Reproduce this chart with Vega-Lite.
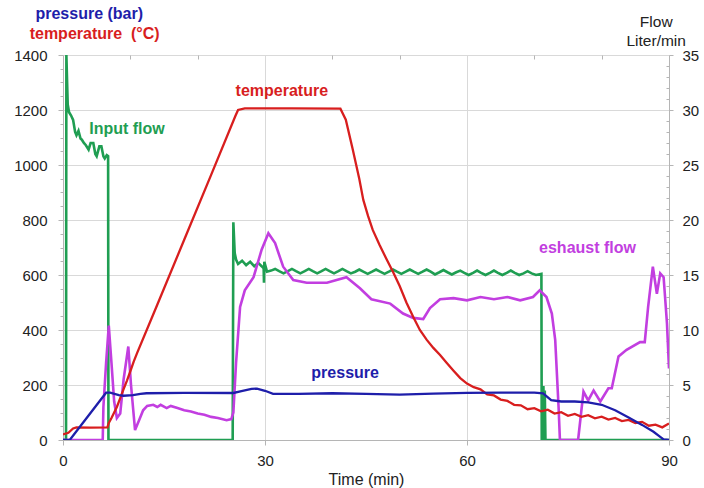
{
  "$schema": "https://vega.github.io/schema/vega-lite/v6.json",
  "width": 606,
  "height": 385,
  "autosize": {"type": "none"},
  "padding": {"left": 63, "top": 55, "right": 35, "bottom": 48},
  "background": "white",
  "config": {
    "view": {"stroke": null},
    "font": "Liberation Sans",
    "axis": {"labelFont": "Liberation Sans", "titleFont": "Liberation Sans", "labelColor": "#222", "titleColor": "#222", "domainColor": "#b5b5b5", "tickColor": "#b5b5b5", "gridColor": "#d9d9d9", "gridWidth": 1}
  },
  "datasets": {
    "lft": [
      {"s": "temperature", "t": 0, "v": 20}, {"s": "temperature", "t": 0.8, "v": 26}, {"s": "temperature", "t": 1.5, "v": 42}, {"s": "temperature", "t": 2, "v": 46}, {"s": "temperature", "t": 4, "v": 45}, {"s": "temperature", "t": 6.6, "v": 46}, {"s": "temperature", "t": 6.8, "v": 62}, {"s": "temperature", "t": 7.2, "v": 80}, {"s": "temperature", "t": 7.6, "v": 100}, {"s": "temperature", "t": 8, "v": 120}, {"s": "temperature", "t": 8.5, "v": 152}, {"s": "temperature", "t": 9, "v": 185}, {"s": "temperature", "t": 9.5, "v": 216}, {"s": "temperature", "t": 10, "v": 250}, {"s": "temperature", "t": 10.5, "v": 285}, {"s": "temperature", "t": 11, "v": 316}, {"s": "temperature", "t": 14, "v": 492}, {"s": "temperature", "t": 18, "v": 728}, {"s": "temperature", "t": 22, "v": 964}, {"s": "temperature", "t": 25.6, "v": 1178}, {"s": "temperature", "t": 26, "v": 1200}, {"s": "temperature", "t": 27, "v": 1206}, {"s": "temperature", "t": 34, "v": 1206}, {"s": "temperature", "t": 41.2, "v": 1205}, {"s": "temperature", "t": 42, "v": 1165}, {"s": "temperature", "t": 43, "v": 1060}, {"s": "temperature", "t": 44, "v": 950}, {"s": "temperature", "t": 44.6, "v": 873}, {"s": "temperature", "t": 45.3, "v": 815}, {"s": "temperature", "t": 46, "v": 764}, {"s": "temperature", "t": 47, "v": 710}, {"s": "temperature", "t": 48, "v": 660}, {"s": "temperature", "t": 49, "v": 612}, {"s": "temperature", "t": 50, "v": 560}, {"s": "temperature", "t": 51, "v": 500}, {"s": "temperature", "t": 52, "v": 448}, {"s": "temperature", "t": 53, "v": 400}, {"s": "temperature", "t": 54, "v": 365}, {"s": "temperature", "t": 55, "v": 335}, {"s": "temperature", "t": 56, "v": 309}, {"s": "temperature", "t": 57, "v": 280}, {"s": "temperature", "t": 58, "v": 252}, {"s": "temperature", "t": 59, "v": 225}, {"s": "temperature", "t": 60, "v": 205}, {"s": "temperature", "t": 61, "v": 192}, {"s": "temperature", "t": 62, "v": 184}, {"s": "temperature", "t": 63, "v": 166}, {"s": "temperature", "t": 64, "v": 162}, {"s": "temperature", "t": 65, "v": 147}, {"s": "temperature", "t": 66, "v": 142}, {"s": "temperature", "t": 67, "v": 128}, {"s": "temperature", "t": 68, "v": 126}, {"s": "temperature", "t": 69, "v": 112}, {"s": "temperature", "t": 70, "v": 116}, {"s": "temperature", "t": 71, "v": 104}, {"s": "temperature", "t": 72, "v": 110}, {"s": "temperature", "t": 73, "v": 96}, {"s": "temperature", "t": 74, "v": 101}, {"s": "temperature", "t": 75, "v": 88}, {"s": "temperature", "t": 76, "v": 95}, {"s": "temperature", "t": 77, "v": 84}, {"s": "temperature", "t": 78, "v": 90}, {"s": "temperature", "t": 79, "v": 79}, {"s": "temperature", "t": 80, "v": 85}, {"s": "temperature", "t": 81, "v": 74}, {"s": "temperature", "t": 82, "v": 80}, {"s": "temperature", "t": 83, "v": 69}, {"s": "temperature", "t": 84, "v": 73}, {"s": "temperature", "t": 85, "v": 62}, {"s": "temperature", "t": 86, "v": 66}, {"s": "temperature", "t": 87, "v": 52}, {"s": "temperature", "t": 88, "v": 56}, {"s": "temperature", "t": 89, "v": 46}, {"s": "temperature", "t": 90, "v": 60},
      {"s": "pressure", "t": 0, "v": 0}, {"s": "pressure", "t": 1.0, "v": 0}, {"s": "pressure", "t": 6.4, "v": 172}, {"s": "pressure", "t": 7, "v": 172}, {"s": "pressure", "t": 8.3, "v": 163}, {"s": "pressure", "t": 9, "v": 161}, {"s": "pressure", "t": 10.4, "v": 163}, {"s": "pressure", "t": 11.5, "v": 168}, {"s": "pressure", "t": 12.4, "v": 170}, {"s": "pressure", "t": 18, "v": 171}, {"s": "pressure", "t": 25.3, "v": 171}, {"s": "pressure", "t": 26.5, "v": 178}, {"s": "pressure", "t": 28, "v": 186}, {"s": "pressure", "t": 28.8, "v": 187}, {"s": "pressure", "t": 30, "v": 179}, {"s": "pressure", "t": 31.2, "v": 168}, {"s": "pressure", "t": 35, "v": 168}, {"s": "pressure", "t": 40, "v": 170}, {"s": "pressure", "t": 45, "v": 168}, {"s": "pressure", "t": 50, "v": 165}, {"s": "pressure", "t": 55, "v": 169}, {"s": "pressure", "t": 60, "v": 171}, {"s": "pressure", "t": 65, "v": 172}, {"s": "pressure", "t": 70, "v": 172}, {"s": "pressure", "t": 71.3, "v": 170}, {"s": "pressure", "t": 72.5, "v": 145}, {"s": "pressure", "t": 74, "v": 140}, {"s": "pressure", "t": 76, "v": 140}, {"s": "pressure", "t": 78, "v": 137}, {"s": "pressure", "t": 80, "v": 128}, {"s": "pressure", "t": 82, "v": 108}, {"s": "pressure", "t": 84, "v": 82}, {"s": "pressure", "t": 86, "v": 55}, {"s": "pressure", "t": 87.7, "v": 30}, {"s": "pressure", "t": 88.5, "v": 15}, {"s": "pressure", "t": 89.2, "v": 2}, {"s": "pressure", "t": 90, "v": 0}
    ],
    "flw": [
      {"s": "input", "t": 0, "f": 0}, {"s": "input", "t": 0.45, "f": 0}, {"s": "input", "t": 0.5, "f": 35}, {"s": "input", "t": 0.7, "f": 30.5}, {"s": "input", "t": 0.9, "f": 29.8}, {"s": "input", "t": 1.2, "f": 29.5}, {"s": "input", "t": 1.5, "f": 29.1}, {"s": "input", "t": 1.8, "f": 28.0}, {"s": "input", "t": 2.0, "f": 27.7}, {"s": "input", "t": 2.3, "f": 28.1}, {"s": "input", "t": 2.6, "f": 27.4}, {"s": "input", "t": 2.8, "f": 27.3}, {"s": "input", "t": 3.1, "f": 27.0}, {"s": "input", "t": 3.4, "f": 26.8}, {"s": "input", "t": 3.8, "f": 26.4}, {"s": "input", "t": 4.1, "f": 27.0}, {"s": "input", "t": 4.5, "f": 27.0}, {"s": "input", "t": 4.8, "f": 26.0}, {"s": "input", "t": 5.0, "f": 25.8}, {"s": "input", "t": 5.4, "f": 26.7}, {"s": "input", "t": 5.7, "f": 26.7}, {"s": "input", "t": 6.0, "f": 25.8}, {"s": "input", "t": 6.2, "f": 25.6}, {"s": "input", "t": 6.5, "f": 25.9}, {"s": "input", "t": 6.7, "f": 25.8}, {"s": "input", "t": 6.75, "f": 0}, {"s": "input", "t": 25.2, "f": 0}, {"s": "input", "t": 25.3, "f": 19.8}, {"s": "input", "t": 25.5, "f": 17.0}, {"s": "input", "t": 25.7, "f": 16.4}, {"s": "input", "t": 26, "f": 16.0}, {"s": "input", "t": 26.6, "f": 16.3}, {"s": "input", "t": 27.2, "f": 15.9}, {"s": "input", "t": 27.8, "f": 16.2}, {"s": "input", "t": 28.4, "f": 15.8}, {"s": "input", "t": 29, "f": 16.1}, {"s": "input", "t": 29.5, "f": 15.8}, {"s": "input", "t": 29.8, "f": 15.6}, {"s": "input", "t": 29.85, "f": 14.3}, {"s": "input", "t": 29.9, "f": 16.2}, {"s": "input", "t": 30.3, "f": 15.3}, {"s": "input", "t": 30.9, "f": 15.4}, {"s": "input", "t": 31.5, "f": 15.55}, {"s": "input", "t": 32.1, "f": 15.35}, {"s": "input", "t": 32.75, "f": 15.15}, {"s": "input", "t": 33.4, "f": 15.35}, {"s": "input", "t": 34, "f": 15.55}, {"s": "input", "t": 34.6, "f": 15.35}, {"s": "input", "t": 35.25, "f": 15.15}, {"s": "input", "t": 35.9, "f": 15.35}, {"s": "input", "t": 36.5, "f": 15.55}, {"s": "input", "t": 37.1, "f": 15.35}, {"s": "input", "t": 37.75, "f": 15.15}, {"s": "input", "t": 38.4, "f": 15.35}, {"s": "input", "t": 39, "f": 15.55}, {"s": "input", "t": 39.6, "f": 15.35}, {"s": "input", "t": 40.25, "f": 15.15}, {"s": "input", "t": 40.9, "f": 15.35}, {"s": "input", "t": 41.5, "f": 15.55}, {"s": "input", "t": 42.1, "f": 15.35}, {"s": "input", "t": 42.75, "f": 15.15}, {"s": "input", "t": 43.4, "f": 15.3}, {"s": "input", "t": 44, "f": 15.5}, {"s": "input", "t": 44.6, "f": 15.3}, {"s": "input", "t": 45.25, "f": 15.1}, {"s": "input", "t": 45.9, "f": 15.3}, {"s": "input", "t": 46.5, "f": 15.5}, {"s": "input", "t": 47.1, "f": 15.3}, {"s": "input", "t": 47.75, "f": 15.1}, {"s": "input", "t": 48.4, "f": 15.3}, {"s": "input", "t": 49, "f": 15.5}, {"s": "input", "t": 49.6, "f": 15.3}, {"s": "input", "t": 50.25, "f": 15.1}, {"s": "input", "t": 50.9, "f": 15.3}, {"s": "input", "t": 51.5, "f": 15.5}, {"s": "input", "t": 52.1, "f": 15.3}, {"s": "input", "t": 52.75, "f": 15.1}, {"s": "input", "t": 53.4, "f": 15.3}, {"s": "input", "t": 54, "f": 15.5}, {"s": "input", "t": 54.6, "f": 15.3}, {"s": "input", "t": 55.25, "f": 15.05}, {"s": "input", "t": 55.9, "f": 15.25}, {"s": "input", "t": 56.5, "f": 15.45}, {"s": "input", "t": 57.1, "f": 15.25}, {"s": "input", "t": 57.75, "f": 15.05}, {"s": "input", "t": 58.4, "f": 15.25}, {"s": "input", "t": 59, "f": 15.4}, {"s": "input", "t": 59.6, "f": 15.2}, {"s": "input", "t": 60.25, "f": 15.0}, {"s": "input", "t": 60.9, "f": 15.2}, {"s": "input", "t": 61.5, "f": 15.4}, {"s": "input", "t": 62.1, "f": 15.2}, {"s": "input", "t": 62.75, "f": 15.0}, {"s": "input", "t": 63.4, "f": 15.2}, {"s": "input", "t": 64, "f": 15.4}, {"s": "input", "t": 64.6, "f": 15.2}, {"s": "input", "t": 65.25, "f": 15.0}, {"s": "input", "t": 65.9, "f": 15.2}, {"s": "input", "t": 66.5, "f": 15.4}, {"s": "input", "t": 67.1, "f": 15.2}, {"s": "input", "t": 67.75, "f": 15.0}, {"s": "input", "t": 68.4, "f": 15.15}, {"s": "input", "t": 69, "f": 15.35}, {"s": "input", "t": 69.6, "f": 15.15}, {"s": "input", "t": 70.25, "f": 15.0}, {"s": "input", "t": 71.05, "f": 15.1}, {"s": "input", "t": 71.1, "f": 0}, {"s": "input", "t": 71.3, "f": 0}, {"s": "input", "t": 71.35, "f": 4.9}, {"s": "input", "t": 71.45, "f": 0}, {"s": "input", "t": 71.55, "f": 4.5}, {"s": "input", "t": 71.65, "f": 0}, {"s": "input", "t": 90, "f": 0},
      {"s": "exhaust", "t": 0, "f": 0}, {"s": "exhaust", "t": 5.9, "f": 0}, {"s": "exhaust", "t": 6.0, "f": 3.0}, {"s": "exhaust", "t": 6.4, "f": 7.0}, {"s": "exhaust", "t": 6.8, "f": 10.4}, {"s": "exhaust", "t": 7.2, "f": 7.0}, {"s": "exhaust", "t": 7.6, "f": 3.5}, {"s": "exhaust", "t": 8.0, "f": 2.0}, {"s": "exhaust", "t": 8.5, "f": 2.4}, {"s": "exhaust", "t": 9.0, "f": 5.5}, {"s": "exhaust", "t": 9.7, "f": 8.5}, {"s": "exhaust", "t": 10.1, "f": 5.0}, {"s": "exhaust", "t": 10.7, "f": 0.9}, {"s": "exhaust", "t": 11.3, "f": 1.8}, {"s": "exhaust", "t": 11.9, "f": 2.7}, {"s": "exhaust", "t": 12.5, "f": 3.1}, {"s": "exhaust", "t": 13.4, "f": 3.2}, {"s": "exhaust", "t": 14, "f": 3.0}, {"s": "exhaust", "t": 14.5, "f": 3.2}, {"s": "exhaust", "t": 15.4, "f": 2.9}, {"s": "exhaust", "t": 16, "f": 3.1}, {"s": "exhaust", "t": 17, "f": 2.9}, {"s": "exhaust", "t": 18, "f": 2.7}, {"s": "exhaust", "t": 19, "f": 2.6}, {"s": "exhaust", "t": 20, "f": 2.4}, {"s": "exhaust", "t": 21, "f": 2.3}, {"s": "exhaust", "t": 22, "f": 2.1}, {"s": "exhaust", "t": 23, "f": 2.0}, {"s": "exhaust", "t": 24.3, "f": 1.8}, {"s": "exhaust", "t": 25, "f": 1.9}, {"s": "exhaust", "t": 25.3, "f": 2.5}, {"s": "exhaust", "t": 25.7, "f": 7.0}, {"s": "exhaust", "t": 26.3, "f": 12.1}, {"s": "exhaust", "t": 27, "f": 13.6}, {"s": "exhaust", "t": 28.3, "f": 14.8}, {"s": "exhaust", "t": 29.5, "f": 17.3}, {"s": "exhaust", "t": 30.5, "f": 18.8}, {"s": "exhaust", "t": 31.5, "f": 17.9}, {"s": "exhaust", "t": 32.7, "f": 15.75}, {"s": "exhaust", "t": 34.2, "f": 14.55}, {"s": "exhaust", "t": 36.2, "f": 14.3}, {"s": "exhaust", "t": 39.2, "f": 14.3}, {"s": "exhaust", "t": 42.1, "f": 14.8}, {"s": "exhaust", "t": 44.1, "f": 13.8}, {"s": "exhaust", "t": 45.8, "f": 12.8}, {"s": "exhaust", "t": 48.6, "f": 12.4}, {"s": "exhaust", "t": 50.5, "f": 11.5}, {"s": "exhaust", "t": 52, "f": 11.1}, {"s": "exhaust", "t": 53.5, "f": 11.0}, {"s": "exhaust", "t": 54.5, "f": 12.0}, {"s": "exhaust", "t": 56, "f": 12.8}, {"s": "exhaust", "t": 58, "f": 12.9}, {"s": "exhaust", "t": 60, "f": 12.7}, {"s": "exhaust", "t": 62, "f": 13.0}, {"s": "exhaust", "t": 64, "f": 12.8}, {"s": "exhaust", "t": 66, "f": 13.0}, {"s": "exhaust", "t": 67.9, "f": 12.7}, {"s": "exhaust", "t": 69.8, "f": 13.0}, {"s": "exhaust", "t": 70.8, "f": 13.6}, {"s": "exhaust", "t": 71.8, "f": 13.0}, {"s": "exhaust", "t": 72.6, "f": 11.5}, {"s": "exhaust", "t": 73.1, "f": 9.1}, {"s": "exhaust", "t": 73.6, "f": 3.0}, {"s": "exhaust", "t": 73.8, "f": 0}, {"s": "exhaust", "t": 76.5, "f": 0}, {"s": "exhaust", "t": 77.3, "f": 4.4}, {"s": "exhaust", "t": 78, "f": 3.6}, {"s": "exhaust", "t": 78.8, "f": 4.5}, {"s": "exhaust", "t": 79.8, "f": 3.5}, {"s": "exhaust", "t": 81, "f": 4.7}, {"s": "exhaust", "t": 81.5, "f": 4.7}, {"s": "exhaust", "t": 82.5, "f": 7.6}, {"s": "exhaust", "t": 83.7, "f": 8.2}, {"s": "exhaust", "t": 85.7, "f": 8.9}, {"s": "exhaust", "t": 86.4, "f": 8.9}, {"s": "exhaust", "t": 86.9, "f": 12.1}, {"s": "exhaust", "t": 87.6, "f": 15.75}, {"s": "exhaust", "t": 88.2, "f": 13.3}, {"s": "exhaust", "t": 88.7, "f": 15.15}, {"s": "exhaust", "t": 89.2, "f": 14.8}, {"s": "exhaust", "t": 89.7, "f": 10.6}, {"s": "exhaust", "t": 90, "f": 6.5}
    ],
    "lbl": [
      {"s": "input", "txt": "Input flow", "t": 9.5, "v": 1131},
      {"s": "temperature", "txt": "temperature", "t": 32.5, "v": 1269},
      {"s": "pressure", "txt": "pressure", "t": 41.9, "v": 242},
      {"s": "exhaust", "txt": "eshaust flow", "t": 77.9, "v": 698},
      {"s": "pressure", "txt": "pressure (bar)", "t": 3.9, "v": 1549},
      {"s": "temperature", "txt": "temperature\u00a0\u00a0(°C)", "t": 4.7, "v": 1478}
    ],
    "ftl": [
      {"txt": "Flow", "t": 88.1, "f": 38.0},
      {"txt": "Liter/min", "t": 88.1, "f": 36.3}
    ]
  },
  "layer": [
    {
      "data": {"name": "flw"},
      "mark": {"type": "line", "strokeWidth": 2.6, "clip": true},
      "encoding": {
        "x": {"field": "t", "type": "quantitative", "scale": {"domain": [0, 90], "nice": false}, "axis": {"values": [0, 30, 60, 90], "grid": true, "labelFlush": false, "title": "Time (min)", "titleFontSize": 16, "titleFontWeight": "normal", "titlePadding": 3, "labelFontSize": 15, "labelPadding": 8, "tickSize": 5}},
        "y": {"field": "f", "type": "quantitative", "scale": {"domain": [0, 35], "nice": false}, "axis": {"orient": "right", "values": [0, 5, 10, 15, 20, 25, 30, 35], "grid": false, "labelFontSize": 15, "labelAlign": "left", "labelPadding": 9, "tickSize": 4, "title": null}},
        "color": {"field": "s", "type": "nominal", "scale": {"domain": ["temperature", "pressure", "input", "exhaust"], "range": ["#d81e1e", "#1e1eaa", "#1f9e52", "#c23ee0"]}, "legend": null},
        "order": {"field": "t", "type": "quantitative"}
      }
    },
    {
      "data": {"name": "lft"},
      "mark": {"type": "line", "strokeWidth": 2.3, "clip": true},
      "encoding": {
        "x": {"field": "t", "type": "quantitative", "axis": null},
        "y": {"field": "v", "type": "quantitative", "scale": {"domain": [0, 1400], "nice": false}, "axis": {"orient": "left", "values": [0, 200, 400, 600, 800, 1000, 1200, 1400], "format": "d", "grid": true, "title": null, "labelFontSize": 15, "labelPadding": 11, "tickSize": 5}},
        "color": {"field": "s", "type": "nominal", "legend": null},
        "order": {"field": "t", "type": "quantitative"}
      }
    },
    {
      "data": {"name": "lbl"},
      "mark": {"type": "text", "fontSize": 16, "fontWeight": "bold", "font": "Liberation Sans"},
      "encoding": {
        "x": {"field": "t", "type": "quantitative", "axis": null},
        "y": {"field": "v", "type": "quantitative", "scale": {"domain": [0, 1400], "nice": false}, "axis": null},
        "text": {"field": "txt"},
        "color": {"field": "s", "type": "nominal", "legend": null}
      }
    },
    {
      "data": {"name": "ftl"},
      "mark": {"type": "text", "fontSize": 15.5, "font": "Liberation Sans", "color": "#222"},
      "encoding": {
        "x": {"field": "t", "type": "quantitative", "axis": null},
        "y": {"field": "f", "type": "quantitative", "scale": {"domain": [0, 35], "nice": false}, "axis": null},
        "text": {"field": "txt"}
      }
    },
    {
      "data": {"name": "lbl"},
      "mark": {"type": "point", "opacity": 0},
      "encoding": {
        "x": {"field": "t", "type": "quantitative", "axis": {"values": [10, 20, 40, 50, 70, 80], "labels": false, "domain": false, "grid": false, "tickSize": -4, "title": null}},
        "y": {"field": "v", "type": "quantitative", "scale": {"domain": [0, 1400], "nice": false}, "axis": {"orient": "left", "values": [50, 100, 150, 250, 300, 350, 450, 500, 550, 650, 700, 750, 850, 900, 950, 1050, 1100, 1150, 1250, 1300, 1350], "labels": false, "domain": false, "grid": false, "tickSize": 3, "title": null}}
      }
    },
    {
      "data": {"name": "lbl"},
      "mark": {"type": "point", "opacity": 0},
      "encoding": {
        "x": {"field": "t", "type": "quantitative", "axis": null},
        "y": {"field": "v", "type": "quantitative", "scale": {"domain": [0, 35], "nice": false}, "axis": {"orient": "right", "values": [1, 2, 3, 4, 6, 7, 8, 9, 11, 12, 13, 14, 16, 17, 18, 19, 21, 22, 23, 24, 26, 27, 28, 29, 31, 32, 33, 34], "labels": false, "domain": false, "grid": false, "tickSize": -3, "title": null}}
      }
    }
  ],
  "resolve": {"scale": {"y": "independent"}, "axis": {"x": "independent", "y": "independent"}}
}
